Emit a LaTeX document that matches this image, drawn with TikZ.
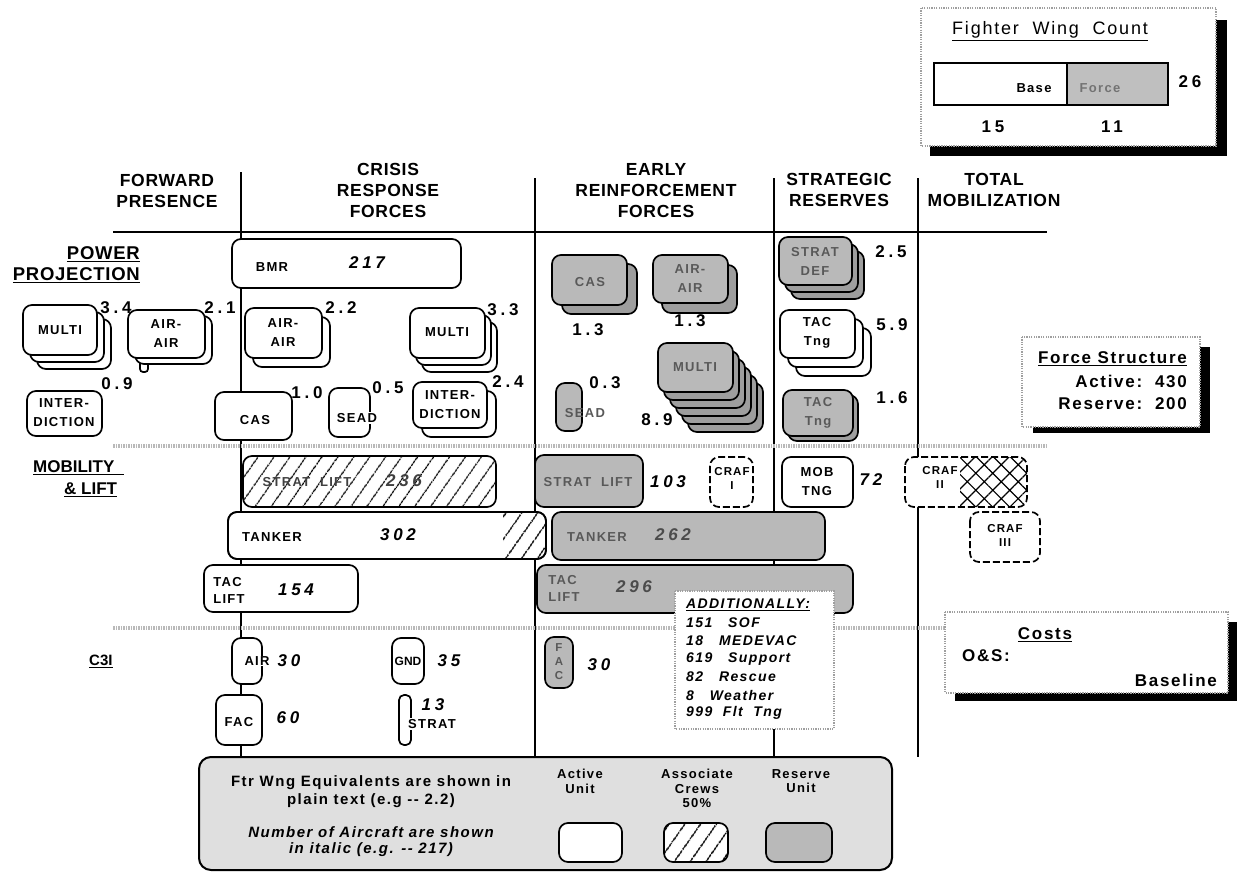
\documentclass[tikz,border=0pt]{standalone}
\usepackage{fontspec}
\setmainfont{Liberation Sans}
\newfontfamily\spf[LetterSpace=10]{Liberation Sans}
\newfontfamily\hdf[LetterSpace=4]{Liberation Sans}
\newfontfamily\numf[LetterSpace=22]{Liberation Sans}
\usetikzlibrary{patterns.meta}
\tikzset{
 act/.style={draw=black,line width=1.7pt,rounded corners=9pt,fill=white},
 res/.style={draw=black,line width=1.7pt,rounded corners=9pt,fill=gray!55},
 resb/.style={draw=black,line width=1.7pt,rounded corners=9pt,fill=gray!76},
 hatchfill/.style={pattern={Lines[angle=55,distance=13pt,line width=1.3pt]}},
 crossfill/.style={pattern={Hatch[angle=45,distance=12pt,line width=1.2pt]}},
 hat/.style={draw=black,line width=1.7pt,rounded corners=9pt,preaction={fill=white},hatchfill},
 craf/.style={draw=black,line width=1.7pt,rounded corners=9pt,fill=white,dash pattern=on 7pt off 3pt},
 hdr/.style={font=\hdf\bfseries\fontsize{17.5}{21}\selectfont,align=center},
 rowl/.style={font=\bfseries\fontsize{17}{21}\selectfont,inner sep=0pt},
 lbl/.style={font=\spf\bfseries\fontsize{13}{19}\selectfont,align=center,inner sep=0pt},
 slbl/.style={font=\spf\bfseries\fontsize{11.5}{14}\selectfont,align=center,inner sep=0pt},
 mlbl/.style={font=\spf\bfseries\fontsize{13}{17}\selectfont,align=left,inner sep=0pt},
 rlbl/.style={lbl,text=black!65},
 num/.style={font=\numf\bfseries\fontsize{17}{17}\selectfont,inner sep=0pt},
 inum/.style={font=\numf\bfseries\itshape\fontsize{17}{17}\selectfont,inner sep=0pt},
 sep/.style={draw=gray!55,line width=3.5pt,dash pattern=on 1.5pt off 1pt},
 vline/.style={draw=black,line width=1.6pt},
 infob/.style={draw=gray!75,line width=2pt,dash pattern=on 1.2pt off 1.2pt,fill=white},
 shad/.style={fill=black},
 txt/.style={font=\spf\bfseries\fontsize{17}{19}\selectfont,inner sep=0pt},
 addt/.style={font=\spf\bfseries\itshape\fontsize{14}{18}\selectfont,inner sep=0pt,anchor=west},
 leg/.style={font=\spf\bfseries\fontsize{15}{18}\selectfont,align=center,inner sep=0pt},
 legs/.style={font=\spf\bfseries\fontsize{13}{14.5}\selectfont,align=center,inner sep=0pt},
}
\newcommand\stk[8]{\foreach \kk in {#2}{\path[#1,shift={({\kk*#3},{\kk*#4})}] (#5,#6) rectangle (#7,#8);}}
\begin{document}
\begin{tikzpicture}[x=1pt,y=-1pt]
\useasboundingbox (0,0) rectangle (1237,872);

% ---------- structure lines
\draw[vline] (241,172) -- (241,757);
\draw[vline] (535,178) -- (535,757);
\draw[vline] (774,178) -- (774,757);
\draw[vline] (918,178) -- (918,757);
\draw[line width=2.8pt] (113,232) -- (1047,232);
\draw[sep] (113,446) -- (1047,446);
\draw[sep] (113,628) -- (947,628);

% ---------- fighter wing count
\fill[shad] (930,20) rectangle (1227,156);
\path[infob] (921,8) rectangle (1216,146);
\node[font=\spf\fontsize{18}{18}\selectfont,inner sep=0pt] (fwc) at (1050,31) {\underline{Fighter\ \ Wing\ \ Count}};
\draw[line width=2pt,fill=white] (934,63) rectangle (1067,105);
\draw[line width=2pt,fill=gray!50] (1067,63) rectangle (1168,105);
\node[font=\spf\bfseries\fontsize{13}{13}\selectfont,inner sep=0pt] (fwbase) at (1034,88) {Base};
\node[font=\spf\bfseries\fontsize{13}{13}\selectfont,inner sep=0pt,text=black!55] (fwforce) at (1100,88) {Force};
\node[num] (fw26) at (1190,82) {26};
\node[num] (fw15) at (993,127) {15};
\node[num] (fw11) at (1112,127) {11};

% ---------- headers
\node[hdr] (hfp) at (167,191) {FORWARD\\PRESENCE};
\node[hdr] (hcr) at (388,190) {CRISIS\\RESPONSE\\FORCES};
\node[hdr] (her) at (656,191) {EARLY\\REINFORCEMENT\\FORCES};
\node[hdr] (hsr) at (839,190) {STRATEGIC\\RESERVES};
\node[hdr] (htm) at (994,190) {TOTAL\\MOBILIZATION};

% ---------- row labels
\node[rowl,anchor=east,font=\hdf\bfseries\fontsize{18.5}{21}\selectfont] (rpp1) at (140,254) {\underline{POWER}};
\node[rowl,anchor=east,font=\hdf\bfseries\fontsize{18.5}{21}\selectfont] (rpp2) at (140,275) {\underline{PROJECTION}};
\node[rowl,anchor=west] (rml1) at (33,468) {\underline{MOBILITY\ \ }};
\node[rowl,anchor=west] (rml2) at (64,490) {\underline{\&\ LIFT}};
\node[rowl,anchor=west,font=\bfseries\fontsize{15}{15}\selectfont] (rc3i) at (89,661) {\underline{C3I}};

% ---------- power projection: forward presence
\stk{act}{2,1,0}{7}{7}{23}{305}{97}{355}
\node[lbl] (lmulti1) at (60,330) {MULTI};
\node[num] (n34) at (116,308) {3.4};
\path[act,rounded corners=3pt] (140,356) rectangle (148,372);
\stk{act}{1,0}{7}{6}{128}{310}{205}{358}
\node[lbl] (laa1) at (166,334) {AIR-\\AIR};
\node[num] (n21) at (220,308) {2.1};
\path[act] (27,391) rectangle (102,436);
\node[lbl] (lint1) at (64,413) {INTER-\\DICTION};
\node[num] (n09) at (117,384) {0.9};

% ---------- crisis response
\path[act] (232,239) rectangle (461,288);
\node[lbl] (lbmr) at (272,267) {BMR};
\node[inum] (n217) at (367,263) {217};
\stk{act}{1,0}{8}{9}{245}{308}{322}{358}
\node[lbl] (laa2) at (283,333) {AIR-\\AIR};
\node[num] (n22) at (341,308) {2.2};
\stk{act}{2,1,0}{6}{7}{410}{308}{485}{358}
\node[lbl] (lmulti2) at (447,332) {MULTI};
\node[num] (n33) at (503,310) {3.3};
\path[act] (215,392) rectangle (292,440);
\node[lbl] (lcas2) at (255,420) {CAS};
\node[num] (n10) at (307,393) {1.0};
\path[act] (329,388) rectangle (370,437);
\node[lbl,fill=white,inner sep=1pt] (lsead2) at (357,418) {SEAD};
\node[num] (n05) at (388,388) {0.5};
\stk{act}{1,0}{9}{9}{413}{382}{487}{428}
\node[lbl] (lint2) at (450,405) {INTER-\\DICTION};
\node[num] (n24) at (508,382) {2.4};

% ---------- early reinforcement
\stk{resb}{1}{10}{9}{552}{255}{627}{305}
\path[res] (552,255) rectangle (627,305);
\node[rlbl] (lcas3) at (590,282) {CAS};
\node[num] (n13a) at (588,330) {1.3};
\stk{resb}{1}{9}{10}{653}{255}{728}{303}
\path[res] (653,255) rectangle (728,303);
\node[rlbl] (laa3) at (690,279) {AIR-\\AIR};
\node[num] (n13b) at (690,321) {1.3};
\stk{resb}{5,4,3,2,1}{6}{8}{658}{343}{733}{392}
\path[res] (658,343) rectangle (733,392);
\node[rlbl] (lmulti3) at (695,367) {MULTI};
\node[num] (n89) at (657,420) {8.9};
\path[res] (556,383) rectangle (582,431);
\node[rlbl] (lsead3) at (585,413) {SEAD};
\node[num] (n03) at (605,383) {0.3};

% ---------- strategic reserves
\stk{resb}{2,1}{6}{7}{779}{237}{852}{285}
\path[res] (779,237) rectangle (852,285);
\node[rlbl] (lsdef) at (815,261) {STRAT\\DEF};
\node[num] (n25) at (891,252) {2.5};
\stk{act}{2,1,0}{8}{9}{780}{310}{855}{358}
\node[lbl] (ltac1) at (817,333) {TAC\\Tng};
\node[num] (n59) at (892,325) {5.9};
\stk{resb}{1}{5}{5}{783}{390}{853}{436}
\path[res] (783,390) rectangle (853,436);
\node[rlbl] (ltac2) at (818,413) {TAC\\Tng};
\node[num] (n16) at (892,398) {1.6};

% ---------- mobility & lift
\path[hat] (243,456) rectangle (496,507);
\node[lbl,text=black!75] (lsl1) at (307,482) {STRAT\ \ LIFT};
\node[inum,text=black!75] (n236) at (404,481) {236};
\path[act] (228,512) rectangle (546,559);
\begin{scope}
\clip[rounded corners=9pt] (228,512) rectangle (546,559);
\fill[hatchfill] (503,512) rectangle (546,559);
\end{scope}
\draw[line width=1.7pt,rounded corners=9pt] (228,512) rectangle (546,559);
\node[lbl] (ltank1) at (272,537) {TANKER};
\node[inum] (n302) at (398,535) {302};
\path[act] (204,565) rectangle (358,612);
\node[mlbl] (ltl1) at (229,590) {TAC\\LIFT};
\node[inum] (n154) at (296,590) {154};

\path[res] (535,455) rectangle (643,507);
\node[rlbl] (lsl2) at (588,482) {STRAT\ \ LIFT};
\node[inum] (n103) at (668,482) {103};
\path[craf] (710,457) rectangle (753,507);
\node[slbl] (lcraf1) at (732,478) {CRAF\\I};
\path[res] (552,512) rectangle (825,560);
\node[rlbl] (ltank2) at (597,537) {TANKER};
\node[inum,text=black!70] (n262) at (673,535) {262};
\path[res] (537,565) rectangle (853,613);
\node[mlbl,text=black!65] (ltl2) at (564,588) {TAC\\LIFT};
\node[inum,text=black!70] (n296) at (634,587) {296};
\path[act] (782,457) rectangle (853,507);
\node[lbl] (lmob) at (817,482) {MOB\\TNG};
\node[inum] (n72) at (871,480) {72};
\path[craf] (905,457) rectangle (1027,507);
\begin{scope}
\clip[rounded corners=9pt] (905,457) rectangle (1027,507);
\fill[crossfill] (960,457) rectangle (1027,507);
\end{scope}
\node[slbl] (lcraf2) at (940,477) {CRAF\\II};
\path[craf] (970,512) rectangle (1040,562);
\node[slbl] (lcraf3) at (1005,535) {CRAF\\III};

% ---------- additionally
\path[infob] (675,591) rectangle (834,729);
\node[addt] (ad0) at (686,605) {\underline{ADDITIONALLY:}};
\node[addt] (ad1) at (686,623) {151\ \ \ SOF};
\node[addt] (ad2) at (686,641) {18\ \ \ MEDEVAC};
\node[addt] (ad3) at (686,659) {619\ \ \ Support};
\node[addt] (ad4) at (686,677) {82\ \ \ Rescue};
\node[addt] (ad5) at (686,695) {8\ \ \ Weather};
\node[addt] (ad6) at (686,713) {999\ \ Flt\ \ Tng};

% ---------- C3I
\path[act] (232,638) rectangle (262,684);
\node[lbl,fill=white,inner sep=1pt] (lair) at (257,661) {AIR};
\node[inum] (n30a) at (289,661) {30};
\path[act] (216,695) rectangle (262,745);
\node[lbl] (lfac) at (239,722) {FAC};
\node[inum] (n60) at (288,718) {60};
\path[act] (392,638) rectangle (424,684);
\node[font=\bfseries\fontsize{12}{12}\selectfont,inner sep=0pt] (lgnd) at (408,661) {GND};
\node[inum] (n35) at (449,661) {35};
\path[act,rounded corners=5pt] (399,695) rectangle (411,745);
\node[inum] (n13c) at (433,705) {13};
\node[lbl,fill=white,inner sep=1pt] (lstrat) at (432,724) {STRAT};
\path[res] (545,637) rectangle (573,688);
\node[slbl,text=black!65] (lfac2) at (559,662) {F\\A\\C};
\node[inum] (n30b) at (599,665) {30};

% ---------- force structure
\fill[shad] (1033,347) rectangle (1210,433);
\path[infob] (1022,337) rectangle (1200,427);
\node[txt,anchor=east] (fs1) at (1187,359) {\underline{Force Structure}};
\node[txt,anchor=east] (fs2) at (1187,381) {Active:\ \ 430};
\node[txt,anchor=east] (fs3) at (1187,404) {Reserve:\ \ 200};

% ---------- costs
\fill[shad] (955,622) rectangle (1237,701);
\path[infob] (945,612) rectangle (1228,693);
\node[txt] (cs1) at (1045,635) {\underline{Costs}};
\node[txt,anchor=west] (cs2) at (962,656) {O\&S:};
\node[txt,anchor=east] (cs3) at (1217,680) {Baseline};

% ---------- legend
\path[draw=black,line width=2pt,rounded corners=12pt,fill=gray!25] (199,757) rectangle (892,870);
\node[leg] (lg1) at (371,783) {Ftr\ Wng\ Equivalents\ are\ shown\ in};
\node[leg] (lg2) at (371,801) {plain\ text\ (e.g -- 2.2)};
\node[leg,font=\spf\bfseries\itshape\fontsize{15}{18}\selectfont] (lg3) at (371,832) {Number\ of\ Aircraft\ are\ shown};
\node[leg,font=\spf\bfseries\itshape\fontsize{15}{18}\selectfont] (lg4) at (371,850) {in\ italic\ (e.g. -- 217)};
\node[legs,anchor=north] (lga) at (580,769) {Active\\Unit};
\node[legs,anchor=north] (lgb) at (697,769) {Associate\\Crews\\50\%};
\node[legs,anchor=north] (lgc) at (801,769) {Reserve\\Unit};
\path[act] (559,823) rectangle (622,862);
\path[hat] (664,823) rectangle (728,862);
\path[res] (766,823) rectangle (832,862);
\end{tikzpicture}
\end{document}
